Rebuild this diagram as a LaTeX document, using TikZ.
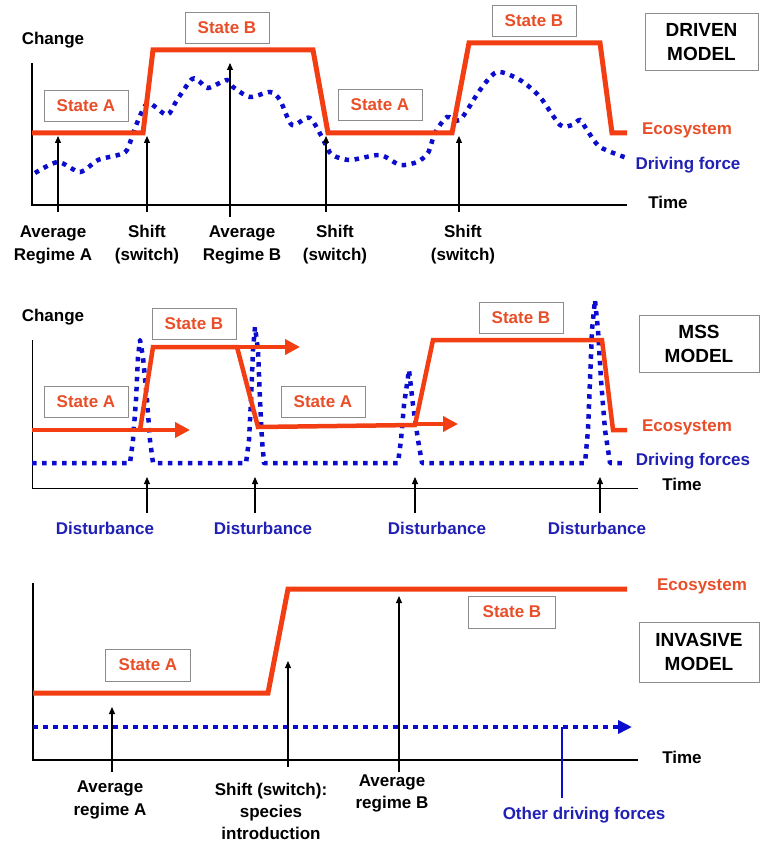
\documentclass[tikz,border=0pt]{standalone}
\usepackage{fontspec}
\setmainfont{Liberation Sans}
\usetikzlibrary{arrows.meta}
\definecolor{ecoline}{RGB}{242,62,18}
\definecolor{ecotext}{RGB}{232,78,40}
\definecolor{forceline}{RGB}{12,12,205}
\definecolor{forcetext}{RGB}{32,32,180}
\definecolor{boxedge}{RGB}{140,140,140}
\begin{document}
\begin{tikzpicture}[x=1pt,y=-1pt,
  every node/.style={font=\fontsize{17}{23}\selectfont\bfseries, inner sep=0pt},
  statebox/.style={draw=boxedge, line width=0.8pt, text=ecotext, minimum width=84pt, minimum height=31pt},
  modelbox/.style={draw=boxedge, line width=0.8pt, align=center, font=\fontsize{19}{24}\selectfont\bfseries},
  ecolabel/.style={text=ecotext},
  forcelabel/.style={text=forcetext},
  eco/.style={draw=ecoline, line width=5pt, line join=miter},
  ecothin/.style={draw=ecoline, line width=4.5pt, line join=miter},
  ecoarrow/.style={ecothin, -{Triangle[length=15pt,width=15pt]}},
  force/.style={draw=forceline, line width=4.5pt, dash pattern=on 4.5pt off 5.5pt},
  axis/.style={draw=black, line width=#1},
  pointer/.style={draw=black, line width=1.2pt, -{Triangle[length=7pt,width=6pt]}},
  multi/.style={align=center}
]
\useasboundingbox (0,0) rectangle (760,842);

% ---------------- Driven model ----------------
\node (ch1) at (53,40) {Change};
\draw[axis=2pt] (32,63) -- (32,205) -- (627,205);
\node (t1) at (668,202) {Time};

% driving force
\draw[force] plot[smooth, tension=0.45] coordinates {
  (35,173) (58,162) (80,172) (98,160) (118,155) (127,150) (137,123)
  (148,103) (167,115) (177,100) (192,79) (200,82) (208,88) (227,80)
  (233,87) (250,97) (270,92) (280,100) (292,125) (310,118) (327,147)
  (332,155) (350,160) (380,155) (400,165) (417,162) (428,153) (435,133)
  (447,117) (460,120) (480,90) (497,72) (520,80) (540,97) (560,125)
  (572,125) (580,120) (587,130) (600,147) (627,158)};

% ecosystem
\draw[eco] (32,133) -- (143,133) -- (153,50) -- (313,50) -- (328,133)
  -- (452,133) -- (469,43) -- (600,43) -- (612,133) -- (627,133);

\node[statebox] (sa1) at (86,106) {State A};
\node[statebox] (sb1) at (227,28) {State B};
\node[statebox] (sa2) at (380,105) {State A};
\node[statebox] (sb2) at (534,21) {State B};
\node[modelbox, minimum width=113pt, minimum height=57pt] (m1) at (701.5,42) {DRIVEN\\MODEL};
\node[ecolabel] (e1) at (687,130) {Ecosystem};
\node[forcelabel] (f1) at (688,165) {Driving force};

\coordinate (p1a) at (58,212);  \coordinate (p1b) at (58,136);
\coordinate (p2a) at (147,212); \coordinate (p2b) at (147,136);
\coordinate (p3a) at (230,217); \coordinate (p3b) at (230,63);
\coordinate (p4a) at (326,212); \coordinate (p4b) at (326,136);
\coordinate (p5a) at (459,212); \coordinate (p5b) at (459,136);
\foreach \p in {p1,p2,p3,p4,p5} \draw[pointer] (\p a) -- (\p b);

\node[multi] (l1) at (53,245) {Average\\Regime A};
\node[multi] (l2) at (147,245) {Shift\\(switch)};
\node[multi] (l3) at (242,245) {Average\\Regime B};
\node[multi] (l4) at (335,245) {Shift\\(switch)};
\node[multi] (l5) at (463,245) {Shift\\(switch)};

% ---------------- MSS model ----------------
\node (ch2) at (53,317) {Change};
\draw[axis=1pt] (32,340) -- (32,488) -- (638,488);
\node (t2) at (682,484) {Time};

% driving forces with disturbance spikes
\draw[force, line join=round] (32,463) -- (130,463)
  -- (133,440) -- (136,400) -- (138,357) -- (140,340)
  -- (143,357) -- (147,400) -- (150,440) -- (153,463)
  -- (246,463)
  -- (249,440) -- (251,400) -- (253,350) -- (255,327)
  -- (258,350) -- (260,400) -- (262,440) -- (264,463)
  -- (398,463)
  -- (401,440) -- (404,405) -- (409,370)
  -- (413,405) -- (418,440) -- (422,463)
  -- (585,463)
  -- (588,430) -- (590,380) -- (592,330) -- (595,300)
  -- (598,330) -- (601,380) -- (605,430) -- (610,463)
  -- (625,463);

% ecosystem trajectories
\draw[ecoarrow] (32,430) -- (190,430);
\draw[ecothin] (140,430) -- (153,347) -- (237,347) -- (258,427) -- (415,425)
  -- (433,340) -- (602,340) -- (613,430) -- (627,430);
\draw[ecoarrow] (237,347) -- (300,347);
\draw[ecoarrow] (415,424) -- (458,424);

\node[statebox] (sa3) at (86,402) {State A};
\node[statebox] (sb3) at (194,324) {State B};
\node[statebox] (sa4) at (323,402) {State A};
\node[statebox] (sb4) at (521,318) {State B};
\node[modelbox, minimum width=120pt, minimum height=57pt] (m2) at (699,343.5) {MSS\\MODEL};
\node[ecolabel] (e2) at (687,427) {Ecosystem};
\node[forcelabel] (f2) at (693,461) {Driving forces};

\coordinate (d1a) at (147,513); \coordinate (d1b) at (147,477);
\coordinate (d2a) at (255,513); \coordinate (d2b) at (255,477);
\coordinate (d3a) at (415,513); \coordinate (d3b) at (415,477);
\coordinate (d4a) at (600,513); \coordinate (d4b) at (600,477);
\foreach \p in {d1,d2,d3,d4} \draw[pointer] (\p a) -- (\p b);

\node[forcelabel] (ds1) at (105,528) {Disturbance};
\node[forcelabel] (ds2) at (263,528) {Disturbance};
\node[forcelabel] (ds3) at (437,528) {Disturbance};
\node[forcelabel] (ds4) at (597,528) {Disturbance};

% ---------------- Invasive model ----------------
\draw[axis=1.5pt] (33,583) -- (33,760) -- (638,760);
\node (t3) at (682,757) {Time};

\coordinate (fs) at (33,727);
\coordinate (fe) at (632,727);
\draw[force, -{Triangle[length=14pt,width=13pt]}] (fs) -- (fe);

\draw[eco] (33,693) -- (268,693) -- (288,589) -- (627,589);

\node[statebox, minimum width=85pt, minimum height=32pt] (sa5) at (148,665) {State A};
\node[statebox, minimum width=87pt, minimum height=32pt] (sb5) at (512,612) {State B};
\node[modelbox, minimum width=120pt, minimum height=60pt] (m3) at (699,652) {INVASIVE\\MODEL};
\node[ecolabel] (e3) at (702,586) {Ecosystem};

\coordinate (q1a) at (112,772); \coordinate (q1b) at (112,707);
\coordinate (q2a) at (288,767); \coordinate (q2b) at (288,661);
\coordinate (q3a) at (399,772); \coordinate (q3b) at (399,596);
\foreach \p in {q1,q2,q3} \draw[pointer] (\p a) -- (\p b);
\coordinate (of) at (562,727);
\coordinate (ofb) at (562,798);
\draw[draw=forceline, line width=1.5pt] (of) -- (ofb);

\node[multi] (r1) at (110,800) {Average\\regime A};
\node[multi, font=\fontsize{17}{22}\selectfont\bfseries] (r2) at (271,811) {Shift (switch):\\species\\introduction};
\node[multi, font=\fontsize{17}{22}\selectfont\bfseries] (r3) at (392,793) {Average\\regime B};
\node[forcelabel] (r4) at (584,815) {Other driving forces};
\end{tikzpicture}
\end{document}
